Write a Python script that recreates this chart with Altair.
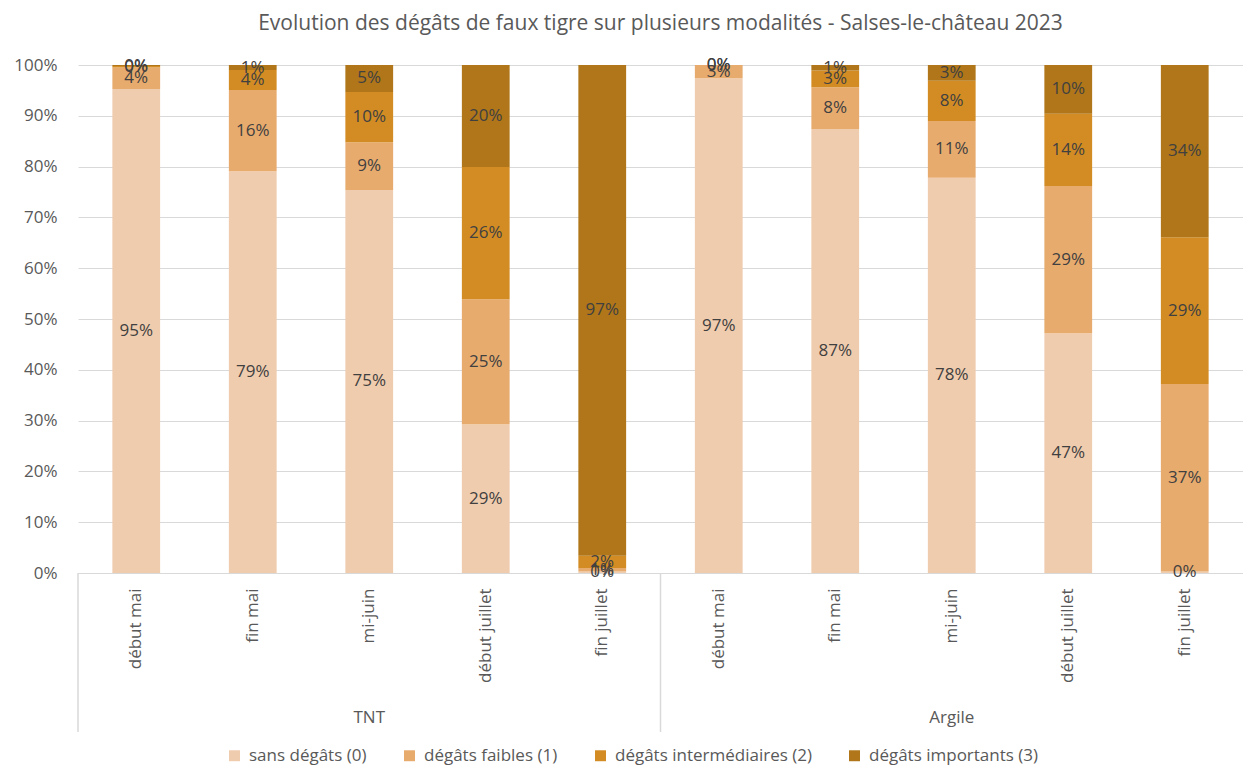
import altair as alt
import pandas as pd

groups = ["TNT"] * 5 + ["Argile"] * 5
periods = ["début mai", "fin mai", "mi-juin", "début juillet", "fin juillet"] * 2
series = ["sans dégâts (0)", "dégâts faibles (1)", "dégâts intermédiaires (2)", "dégâts importants (3)"]
colors = ["#F0CCAE", "#E8AB6E", "#D38C24", "#B07619"]

sans = [95.3, 79.1, 75.4, 29.3, 0.3, 97.4, 87.4, 77.8, 47.2, 0.3]
faibles = [4.2, 16.0, 9.4, 24.6, 0.7, 2.6, 8.2, 11.2, 29.0, 36.9]
inter = [0.3, 3.9, 9.9, 26.0, 2.4, 0.0, 3.3, 7.9, 14.2, 28.9]
imp = [0.2, 1.0, 5.3, 20.1, 96.6, 0.0, 1.1, 3.1, 9.6, 33.9]

keys = [g + "|" + p for g, p in zip(groups, periods)]
rows = []
for si, (name, vals) in enumerate(zip(series, [sans, faibles, inter, imp])):
    for k, v in zip(keys, vals):
        rows.append({"key": k, "serie": name, "idx": si, "value": v})
df = pd.DataFrame(rows)

W, H = 1165, 508
FONT = "Open Sans"
GRAY = "#595959"
FS = 17

xscale = alt.Scale(domain=keys, paddingInner=0, paddingOuter=0)

base = alt.Chart(df).transform_stack(
    stack="value", groupby=["key"], as_=["y0", "y1"], sort=[alt.SortField("idx")]
).transform_calculate(
    mid="(datum.y0 + datum.y1) / 2",
    lab="format(datum.value, '.0f') + '%'",
)

bars = base.mark_bar(width={"band": 0.41}).encode(
    x=alt.X("key:N", scale=xscale, sort=keys,
            axis=alt.Axis(title=None, labelAngle=-90, labelExpr="split(datum.label, '|')[1]",
                          labelFontSize=FS, labelColor=GRAY, labelFont=FONT, ticks=False,
                          domainColor="#D9D9D9", labelPadding=15)),
    y=alt.Y("y0:Q", scale=alt.Scale(domain=[0, 100]),
            axis=alt.Axis(title=None, values=list(range(0, 101, 10)), labelExpr="datum.value + '%'",
                          labelFontSize=FS, labelColor=GRAY, labelFont=FONT, ticks=False,
                          domain=False, gridColor="#D9D9D9", labelPadding=21)),
    y2="y1:Q",
    color=alt.Color("serie:N", scale=alt.Scale(domain=series, range=colors),
                    legend=alt.Legend(title=None, orient="none", direction="horizontal",
                                      legendX=148, legendY=682, symbolType="square",
                                      symbolSize=120, symbolStrokeWidth=0,
                                      labelFontSize=FS, labelColor=GRAY, labelFont=FONT,
                                      labelLimit=0, columnPadding=34, labelOffset=6)),
    order=alt.Order("idx:Q"),
)

texts = base.mark_text(fontSize=FS, color="#404040", font=FONT).encode(
    x=alt.X("key:N", scale=xscale, sort=keys),
    y=alt.Y("mid:Q"),
    text="lab:N",
)

sep_df = pd.DataFrame({"key": ["TNT|début mai", "Argile|début mai"]})
seps = alt.Chart(sep_df).mark_rule(color="#D9D9D9", strokeWidth=1.5).encode(
    x=alt.X("key:N", scale=xscale, sort=keys, bandPosition=0),
    y=alt.value(H),
    y2=alt.value(H + 159),
)

grp_df = pd.DataFrame({"key": ["TNT|mi-juin", "Argile|mi-juin"], "label": ["TNT", "Argile"]})
grp = alt.Chart(grp_df).mark_text(fontSize=FS, color=GRAY, font=FONT).encode(
    x=alt.X("key:N", scale=xscale, sort=keys),
    y=alt.value(H + 145),
    text="label:N",
)

chart = alt.layer(bars, texts, seps, grp).properties(
    width=W, height=H,
    padding={"left": 5, "top": 5, "right": 0, "bottom": 5},
    title=alt.TitleParams("Evolution des dégâts de faux tigre sur plusieurs modalités - Salses-le-château 2023",
                          fontSize=21, font=FONT, color=GRAY, fontWeight="normal", offset=22),
).configure_view(stroke=None)

chart.save("out.html", embed_options={"renderer": "svg", "actions": False})
